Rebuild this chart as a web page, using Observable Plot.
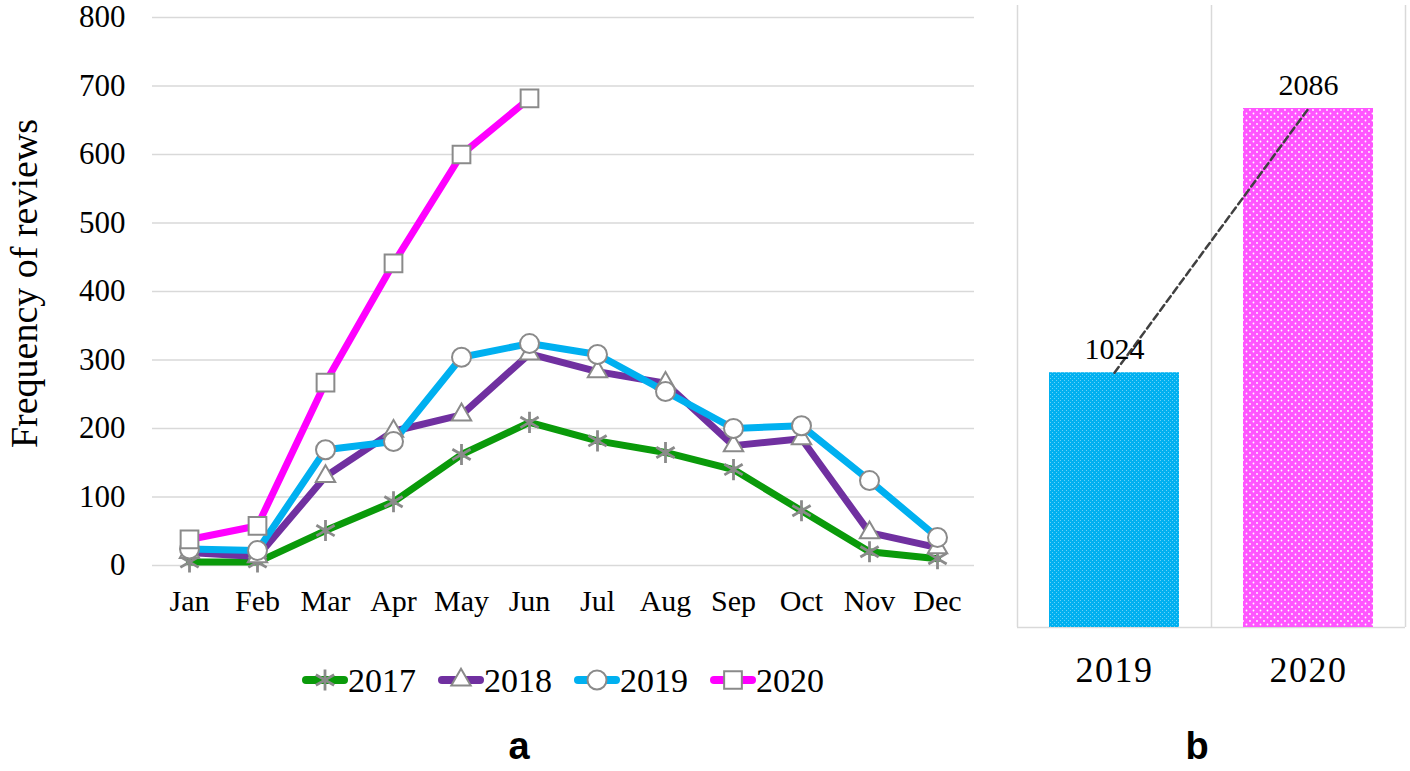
<!DOCTYPE html>
<html>
<head>
<meta charset="utf-8">
<script src="https://cdn.jsdelivr.net/npm/d3@7"></script>
<script src="https://cdn.jsdelivr.net/npm/@observablehq/plot@0.6"></script>
<style>
  html, body { margin: 0; padding: 0; background: #fff; }
  #root { position: relative; width: 1410px; height: 771px; overflow: hidden; background: #fff; }
  .abs { position: absolute; }
  .panel-label { position: absolute; font-family: "Liberation Sans", Arial, sans-serif; font-weight: bold; font-size: 38px; line-height: 1; transform: translateX(-50%); }
</style>
</head>
<body>
<div id="root">
  <svg width="0" height="0" style="position:absolute">
    <defs>
      <pattern id="p2019" width="4" height="4" patternUnits="userSpaceOnUse">
        <rect width="4" height="4" fill="#00b0f0"/>
        <rect x="0" y="0" width="1" height="1" fill="#66d2f7"/>
        <rect x="2" y="2" width="1" height="1" fill="#66d2f7"/>
      </pattern>
      <pattern id="p2020" width="7" height="7" patternUnits="userSpaceOnUse">
        <rect width="7" height="7" fill="#ff55ff"/>
        <circle cx="1.5" cy="1.5" r="0.9" fill="#ffffff"/>
        <circle cx="5" cy="5" r="0.9" fill="#ffffff"/>
      </pattern>
    </defs>
  </svg>
  <div id="left" class="abs" style="left:0;top:0"></div>
  <div id="legend" class="abs" style="left:0;top:650px"></div>
  <div id="right" class="abs" style="left:1000px;top:0"></div>
  <div class="panel-label" style="left:519px;top:727px">a</div>
  <div class="panel-label" style="left:1197px;top:727px">b</div>
</div>
<script>
// ---------- data ----------
const months = ["Jan","Feb","Mar","Apr","May","Jun","Jul","Aug","Sep","Oct","Nov","Dec"];
const years = ["2017","2018","2019","2020"];
const v2017 = [5, 5, 51, 93, 162, 209, 182, 165, 140, 80, 20, 10];
const v2018 = [19, 13, 130, 196, 220, 309, 283, 266, 175, 185, 48, 26];
const v2019 = [24, 22, 169, 181, 304, 324, 308, 254, 200, 204, 124, 41];
const v2020 = [38, 58, 267, 441, 600, 682];
const yTicks = [0, 100, 200, 300, 400, 500, 600, 700, 800];
const yTitle = "Frequency of reviews";

const barYears = ["2019", "2020"];
const barTotals = [1024, 2086];

// ---------- styles ----------
const seriesValues = {"2017": v2017, "2018": v2018, "2019": v2019, "2020": v2020};
const seriesStyle = {
  "2017": {color: "#0a9a0a", symbol: "asterisk", r: 10},
  "2018": {color: "#7030a0", symbol: "triangle", r: 7.2},
  "2019": {color: "#00b0f0", symbol: "circle", r: 9.5},
  "2020": {color: "#ff00ff", symbol: "square", r: 10}
};
const markerStroke = "#8a8a8a";
const serif = "'Liberation Serif', 'Times New Roman', serif";

const rows = years.map(yr => seriesValues[yr].map((v, i) => ({year: yr, month: months[i], value: v})));

// ---------- left chart ----------
const lineMarks = years.map((yr, k) => Plot.line(rows[k], {
  x: "month", y: "value", stroke: seriesStyle[yr].color, strokeWidth: 7,
  strokeLinejoin: "round", strokeLinecap: "round"
}));
const dotMarks = years.map((yr, k) => {
  const s = seriesStyle[yr];
  return Plot.dot(rows[k], {
    x: "month", y: "value", symbol: s.symbol, r: s.r,
    fill: s.symbol === "asterisk" ? "none" : "white",
    stroke: markerStroke, strokeWidth: s.symbol === "asterisk" ? 2.8 : 2
  });
});

const left = Plot.plot({
  width: 1000, height: 640,
  marginLeft: 152, marginRight: 26, marginTop: 17, marginBottom: 75,
  style: {fontFamily: serif, fontSize: "30px", color: "#000", background: "transparent", overflow: "visible"},
  x: {type: "band", domain: months, padding: 0, tickSize: 0, tickPadding: 24, label: null},
  y: {domain: [0, 800], ticks: yTicks, tickSize: 0, tickPadding: 27, label: null},
  marks: [
    Plot.ruleY(yTicks, {y: d => d, stroke: "#d9d9d9", strokeWidth: 1.5}),
    ...lineMarks,
    ...dotMarks,
    Plot.text([yTitle], {text: d => d, frameAnchor: "left", textAnchor: "middle", lineAnchor: "middle",
      dx: -128, dy: -8, rotate: -90, fontSize: 38, fill: "#000"})
  ]
});
left.querySelectorAll('[aria-label^="y-axis"] text').forEach(t => t.setAttribute("font-size", "31"));
document.getElementById("left").appendChild(left);

// ---------- legend ----------
const lg = d3.select("#legend").append("svg").attr("width", 1000).attr("height", 60)
  .style("font-family", serif);
years.forEach((yr, i) => {
  const s = seriesStyle[yr];
  const x0 = 302 + i * 136;
  const g = lg.append("g").attr("transform", `translate(${x0},30)`);
  g.append("line").attr("x1", 4).attr("x2", 42).attr("y1", 0).attr("y2", 0)
    .attr("stroke", s.color).attr("stroke-width", 8).attr("stroke-linecap", "round");
  const symType = {asterisk: d3.symbolAsterisk, triangle: d3.symbolTriangle, circle: d3.symbolCircle, square: d3.symbolSquare}[s.symbol];
  g.append("path").attr("transform", "translate(23,0)")
    .attr("d", d3.symbol().type(symType).size(Math.PI * s.r * s.r)())
    .attr("fill", s.symbol === "asterisk" ? "none" : "white")
    .attr("stroke", markerStroke).attr("stroke-width", s.symbol === "asterisk" ? 2.8 : 2);
  g.append("text").attr("x", 46).attr("y", 0).attr("dy", "0.35em")
    .attr("font-size", 34).attr("fill", "#000").text(yr);
});

// ---------- right chart ----------
const bars = barYears.map((yr, i) => ({year: yr, total: barTotals[i], idx: i}));
const barFill = {"2019": "url(#p2019)", "2020": "url(#p2020)"};
const right = Plot.plot({
  width: 410, height: 700,
  marginLeft: 17, marginRight: 5, marginTop: 5, marginBottom: 73,
  style: {fontFamily: serif, fontSize: "36px", color: "#000", background: "transparent", overflow: "visible"},
  x: {domain: [0, barYears.length], ticks: barYears.map((d, i) => i + 0.5),
      tickFormat: t => barYears[Math.floor(t)], tickSize: 0, tickPadding: 29, label: null},
  y: {domain: [0, 2500], axis: null},
  color: {type: "identity"},
  marks: [
    Plot.ruleX(d3.range(barYears.length + 1), {x: d => d, stroke: "#d9d9d9", strokeWidth: 1.5}),
    Plot.ruleY([0], {stroke: "#d9d9d9", strokeWidth: 1.5}),
    Plot.rectY(bars, {x1: "idx", x2: d => d.idx + 1, y1: 0, y2: "total", fill: d => barFill[d.year], insetLeft: 32, insetRight: 32}),
    Plot.line(bars, {x: d => d.idx + 0.5, y: "total", stroke: "#404040", strokeWidth: 2.5, strokeDasharray: "7,4"}),
    Plot.text(bars, {x: d => d.idx + 0.5, y: "total", text: d => String(d.total), lineAnchor: "bottom", dy: -14, fontSize: 30, fill: "#000"})
  ]
});
right.querySelectorAll('[aria-label^="x-axis"] text').forEach(t => t.style.letterSpacing = "1.5px");
document.getElementById("right").appendChild(right);
</script>
</body>
</html>
